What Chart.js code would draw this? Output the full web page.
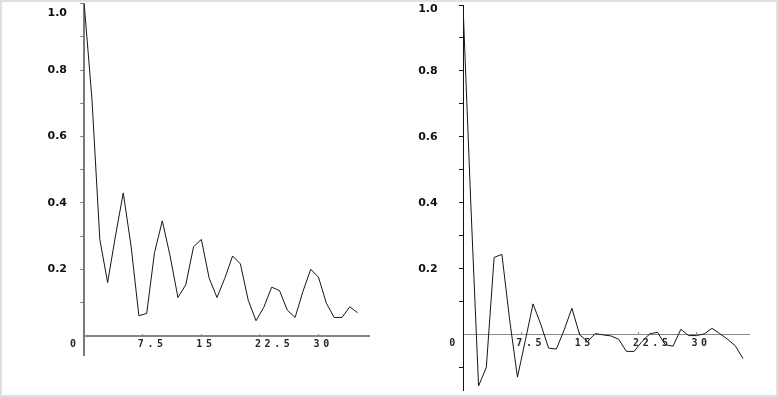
<!DOCTYPE html>
<html><head><meta charset="utf-8">
<script src="https://cdn.jsdelivr.net/npm/chart.js@4/dist/chart.umd.min.js"></script>
<style>
html,body{margin:0;padding:0;background:#fff;}
#stage{position:relative;width:778px;height:397px;overflow:hidden;background:#fff;}
canvas{position:absolute;top:0;}
#frame{position:absolute;left:0;top:0;width:778px;height:397px;box-sizing:border-box;border:2px solid #e0e0e0;pointer-events:none;}
</style></head><body>
<div id="stage">
<canvas id="acf" width="390" height="397" style="left:0;width:390px;height:397px"></canvas>
<canvas id="pacf" width="388" height="397" style="left:390px;width:388px;height:397px"></canvas>
<div id="frame"></div>
</div>
<script>
// ---- data ----
const acfLags   = [0,1,2,3,4,5,6,7,8,9,10,11,12,13,14,15,16,17,18,19,20,21,22,23,24,25,26,27,28,29,30,31,32,33,34,35];
const acfValues = [1.0,0.71,0.29,0.16,0.30,0.43,0.27,0.06,0.067,0.25,0.346,0.24,0.115,0.153,0.268,0.29,0.173,0.115,0.173,0.24,0.216,0.107,0.045,0.086,0.146,0.136,0.077,0.055,0.133,0.2,0.176,0.098,0.055,0.055,0.087,0.069];

const pacfLags   = [0,1,2,3,4,5,6,7,8,9,10,11,12,13,14,15,16,17,18,19,20,21,22,23,24,25,26,27,28,29,30,31,32,33,34,35,36];
const pacfValues = [1.0,0.40,-0.155,-0.098,0.235,0.244,0.045,-0.128,-0.018,0.094,0.032,-0.04,-0.043,0.015,0.081,0.0,-0.02,0.004,0.0,-0.003,-0.013,-0.05,-0.05,-0.02,0.003,0.008,-0.03,-0.034,0.017,-0.002,-0.002,0.003,0.02,0.004,-0.013,-0.033,-0.072];

const xTickValues = [7.5, 15, 22.5, 30];
const xTickLabels = ['7.5', '15', '22.5', '30'];
const originLabel = '0';
const yLabelValues = [0.2, 0.4, 0.6, 0.8, 1.0];
const yLabelTexts  = ['0.2', '0.4', '0.6', '0.8', '1.0'];
const yMinorLeft   = [0.1, 0.3, 0.5, 0.7, 0.9];
const yMinorRight  = [-0.1, 0.1, 0.3, 0.5, 0.7, 0.9];

// ---- drawing ----
const spacing = {
  id: 'letterSpacing',
  afterDatasetsDraw(c) { c.ctx.letterSpacing = '3.6px'; },
  afterDraw(c) { c.ctx.letterSpacing = '0px'; }
};
const xFont = {family: 'DejaVu Sans Mono', weight: 'bold', size: 10, lineHeight: 1.2};

function yLabel(v) {
  for (let i = 0; i < yLabelValues.length; i++) {
    if (Math.abs(v - yLabelValues[i]) < 1e-6) {
      return Math.abs(v - 1) < 1e-6 ? ['', yLabelTexts[i]] : yLabelTexts[i];
    }
  }
  return '';
}
function xLabel(v) {
  for (let i = 0; i < xTickValues.length; i++) if (Math.abs(v - xTickValues[i]) < 1e-6) return xTickLabels[i];
  return '';
}
function noPad(s) { s.paddingTop = 0; s.paddingBottom = 0; s.paddingLeft = 0; s.paddingRight = 0; }

function makeChart(id, lags, vals, p) {
  const data = lags.map((x, i) => ({x: x, y: vals[i]}));
  const yTicks = p.minor.concat(yLabelValues);
  return new Chart(document.getElementById(id), {
    type: 'line',
    data: {datasets: [{data: data, borderColor: '#161616', borderWidth: 1, pointRadius: 0, tension: 0, fill: false}]},
    options: {
      responsive: false, animation: false, devicePixelRatio: 1,
      layout: {autoPadding: false, padding: {left: 0, top: p.top, right: p.right, bottom: p.bottom}},
      plugins: {legend: {display: false}, tooltip: {enabled: false}},
      scales: {
        x: {
          type: 'linear', axis: 'x', position: {y: 0}, min: 0, max: p.xMax,
          afterFit: s => { s.height = 0; noPad(s); },
          afterBuildTicks: s => { s.ticks = xTickValues.map(v => ({value: v})); },
          grid: {display: true, drawOnChartArea: false, drawTicks: true, tickLength: -3, color: p.xColor, tickColor: p.xColor, tickWidth: 1},
          border: {display: true, color: p.xColor, width: p.xWidth},
          ticks: {z: 1, autoSkip: false, maxRotation: 0, minRotation: 0, align: 'start', labelOffset: -5, padding: 5.5,
                  color: '#262626', font: xFont, callback: v => xLabel(v)}
        },
        xo: {
          type: 'linear', axis: 'x', position: {y: 0}, min: 0, max: p.xMax,
          afterFit: s => { s.height = 0; noPad(s); },
          afterBuildTicks: s => { s.ticks = [{value: 0}]; },
          grid: {display: false, drawTicks: false},
          border: {display: false},
          ticks: {z: 1, autoSkip: false, maxRotation: 0, minRotation: 0, align: 'center', labelOffset: p.originOff, padding: 2.5,
                  color: '#262626', font: xFont, callback: () => originLabel}
        },
        y: {
          type: 'linear', position: 'left', min: p.yMin, max: 1.0,
          afterFit: s => { s.width = p.left; noPad(s); },
          afterBuildTicks: s => { s.ticks = yTicks.map(v => ({value: v})); },
          grid: {display: true, drawOnChartArea: false, drawTicks: true, tickLength: 4, color: p.yColor, tickColor: p.yColor, tickWidth: 1},
          border: {display: true, color: p.yColor, width: p.yWidth},
          ticks: {z: 0, autoSkip: false, padding: p.yPad, color: '#111',
                  font: ctx => ({family: 'DejaVu Sans', weight: 'bold', size: 11,
                                 lineHeight: (ctx.tick && Math.abs(ctx.tick.value - 1) < 1e-6) ? p.topLH : 1.2}),
                  callback: v => yLabel(v)}
        }
      }
    },
    plugins: [spacing]
  });
}

makeChart('acf', acfLags, acfValues, {
  top: 3.7, bottom: 41.4, right: 20.7, left: 84.2, xMax: 36.5, yMin: -0.06,
  xColor: '#858585', xWidth: 2, yColor: '#7a7a7a', yWidth: 2, yPad: 13.2, topLH: 1.69, originOff: -9.5,
  minor: yMinorLeft
});
makeChart('pacf', pacfLags, pacfValues, {
  top: 5, bottom: 7, right: 28.7, left: 73, xMax: 36.8, yMin: -0.167,
  xColor: '#8a8a8a', xWidth: 1, yColor: '#111', yWidth: 1, yPad: 21.3, topLH: 0.78, originOff: -9,
  minor: yMinorRight
});
</script>
</body></html>
